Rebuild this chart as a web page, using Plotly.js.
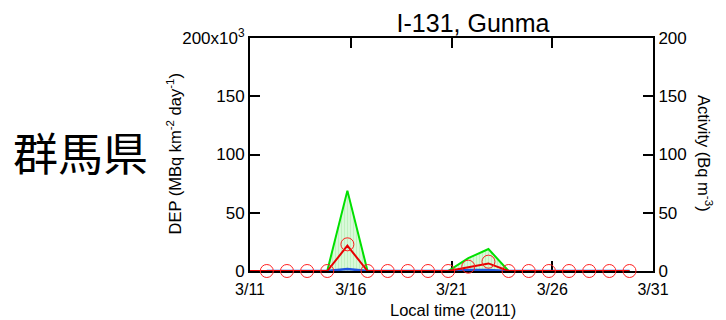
<!DOCTYPE html>
<html>
<head>
<meta charset="utf-8">
<script src="https://cdn.plot.ly/plotly-3.0.1.min.js"></script>
<style>html,body{margin:0;padding:0;background:#fff;}#chart{width:726px;height:320px;}</style>
</head>
<body>
<div id="chart"></div>
<script>
// daily sample times (local)
const dates = ['2011-03-11 20:00','2011-03-12 20:00','2011-03-13 20:00','2011-03-14 20:00','2011-03-15 20:00',
  '2011-03-16 20:00','2011-03-17 20:00','2011-03-18 20:00','2011-03-19 20:00','2011-03-20 20:00',
  '2011-03-21 20:00','2011-03-22 20:00','2011-03-23 20:00','2011-03-24 20:00','2011-03-25 20:00',
  '2011-03-26 20:00','2011-03-27 20:00','2011-03-28 20:00','2011-03-29 20:00'];
// observed activity (Bq m^-3), open red circles
const obsActivity = [0,0,0,0,22.9,0,0,0,0,0,3.7,8.0,0,0,0,0,0,0,0];
// modelled activity (Bq m^-3), red line
const lineDates = ['2011-03-11 00:00'].concat(dates);
const modelActivity = [0,0,0,0,0,21.7,0,0,0,0,0,3.3,6.5,0,0,0,0,0,0,0];
// deposition (x10^3 MBq km^-2 day^-1)
const depUpper = [0,0,0,0,69.0,0,0,0,0,0,11.0,18.9,0,0,0,0,0,0,0];
const depLower = [0,0,0,0,1.7,0,0,0,0,0,0.8,0.8,0,0,0,0,0,0,0];

const xTickVals = ['2011-03-11','2011-03-16','2011-03-21','2011-03-26','2011-03-31'];
const xTickText = ['3/11','3/16','3/21','3/26','3/31'];
const yTickVals = [0,50,100,150,200];
const yTickTextLeft = ['0','50','100','150','200x10<sup>3</sup>'];
const yTickTextRight = ['0','50','100','150','200'];

const FONT = 'Liberation Sans, Arial, sans-serif';

const traces = [
  {x: dates, y: depUpper, type: 'scatter', mode: 'lines', fill: 'tozeroy',
   fillcolor: 'rgba(205,246,205,1)',
   fillpattern: {shape: '|', fgcolor: '#bdf0bd', bgcolor: '#d9f9d9', size: 3, solidity: 0.3},
   line: {color: '#00e000', width: 2}, hoverinfo: 'skip', cliponaxis: false},
  {x: dates, y: depLower, type: 'scatter', mode: 'lines',
   line: {color: '#1f55e0', width: 2.5}, cliponaxis: false},
  {x: lineDates, y: modelActivity, type: 'scatter', mode: 'lines',
   line: {color: '#e60000', width: 2}, cliponaxis: false},
  {x: dates, y: obsActivity, type: 'scatter', mode: 'markers',
   marker: {symbol: 'circle-open', size: 13, color: '#ff2020', line: {width: 1, color: '#ff2020'}},
   cliponaxis: false}
];

const layout = {
  width: 726, height: 320,
  margin: {l: 250, r: 73, t: 38, b: 49},
  paper_bgcolor: '#fff', plot_bgcolor: '#fff',
  showlegend: false,
  font: {family: FONT, color: '#000'},
  title: {text: 'I-131, Gunma', font: {family: FONT, size: 25, color: '#000'},
          x: 473/726, xanchor: 'center', y: 1 - 23/320, yanchor: 'middle', xref: 'container', yref: 'container'},
  xaxis: {type: 'date', range: ['2011-03-11', '2011-03-31'], tickmode: 'array',
          tickvals: xTickVals, ticktext: xTickText, ticks: 'inside', ticklen: 10, tickwidth: 2,
          tickcolor: '#000', showline: true, linecolor: '#000', linewidth: 2, mirror: 'ticks',
          showgrid: false, zeroline: false, tickfont: {size: 16, family: FONT}, layer: 'below traces',
          ticklabelstandoff: 3},
  yaxis: {range: [0, 200], tickmode: 'array', tickvals: yTickVals, ticktext: yTickTextLeft,
          ticks: 'inside', ticklen: 10, tickwidth: 2, tickcolor: '#000', showline: true,
          linecolor: '#000', linewidth: 2, showgrid: false, zeroline: false,
          tickfont: {size: 17, family: FONT}, layer: 'below traces'},
  yaxis2: {range: [0, 200], overlaying: 'y', side: 'right', tickmode: 'array', tickvals: yTickVals,
           ticktext: yTickTextRight, ticks: 'inside', ticklen: 10, tickwidth: 2, tickcolor: '#000',
           showline: true, linecolor: '#000', linewidth: 2, showgrid: false, zeroline: false,
           tickfont: {size: 17, family: FONT}, layer: 'below traces'},
  annotations: [
    {text: 'DEP (MBq km<sup>-2</sup> day<sup>-1</sup>)', xref: 'paper', yref: 'paper',
     x: (174-250)/403, y: 0.5, xanchor: 'center', yanchor: 'middle', textangle: -90,
     showarrow: false, font: {size: 16.5, family: FONT}},
    {text: 'Activity (Bq m<sup>-3</sup>)', xref: 'paper', yref: 'paper',
     x: (705-250)/403, y: (271-153)/233, xanchor: 'center', yanchor: 'middle', textangle: 90,
     showarrow: false, font: {size: 16.5, family: FONT}},
    {text: 'Local time (2011)', xref: 'paper', yref: 'paper',
     x: (453-250)/403, y: (271-310)/233, xanchor: 'center', yanchor: 'middle',
     showarrow: false, font: {size: 16.5, family: FONT}},
    {text: '群馬県', xref: 'paper', yref: 'paper',
     x: (80-250)/403, y: (271-151)/233, xanchor: 'center', yanchor: 'middle',
     showarrow: false, font: {size: 45, family: 'Noto Sans CJK JP, sans-serif', color: '#000'}}
  ]
};

// dummy trace to activate right axis
traces.push({x: [dates[0]], y: [null], yaxis: 'y2', type: 'scatter', mode: 'markers', showlegend: false, hoverinfo: 'skip'});

Plotly.newPlot('chart', traces, layout, {staticPlot: true, displayModeBar: false});
</script>
</body>
</html>
